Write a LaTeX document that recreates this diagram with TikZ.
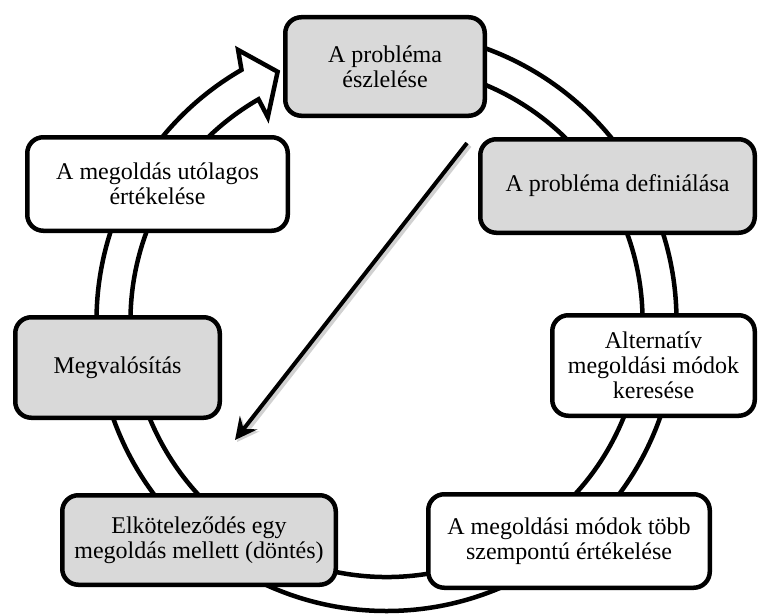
\documentclass[tikz,border=0pt]{standalone}
\usepackage{fontspec}
\setmainfont{Liberation Serif}
\usetikzlibrary{arrows.meta}
\definecolor{boxgray}{RGB}{217,217,217}
\begin{document}
\begin{tikzpicture}[x=1pt,y=1pt,
  stepbox/.style={draw=black, line width=4.5pt, rounded corners=16pt, align=center, inner sep=0pt, font=\fontsize{24}{25}\selectfont},
  graybox/.style={stepbox, fill=boxgray},
  whitebox/.style={stepbox, fill=white},
  ring/.style={draw=black, line width=4.5pt, fill=white},
  diag/.style={line width=4pt, -{Stealth[length=22pt,width=22pt,inset=8pt]}}]
\useasboundingbox (0,0) rectangle (759,-615);
% ring with arrow head
\begin{scope}[shift={(386.5,-321)}]
\path[ring] (90:290) arc[start angle=90,end angle=-240,radius=290]
  -- (118.7:309) -- (113.6:272) -- (120.2:236) -- (120:256)
  arc[start angle=120,end angle=450,radius=256] -- cycle;
\end{scope}
% boxes
\node[graybox, minimum width=199.5pt, minimum height=98.5pt] (n1) at (385,-66.5) {A probléma\\észlelése};
\node[graybox, minimum width=274.5pt, minimum height=93.5pt] (n2) at (617.5,-186) {A probléma definiálása};
\node[whitebox, minimum width=202.5pt, minimum height=100.5pt] (n3) at (653.5,-365.5) {Alternatív\\megoldási módok\\keresése};
\node[whitebox, minimum width=281.5pt, minimum height=93.5pt] (n4) at (569,-541) {A megoldási módok több\\szempontú értékelése};
\node[graybox, minimum width=273.5pt, minimum height=89.5pt] (n5) at (199,-540) {Elköteleződés egy\\megoldás mellett (döntés)};
\node[graybox, minimum width=204.5pt, minimum height=100.5pt] (n6) at (117.5,-367.5) {Megvalósítás};
\node[whitebox, minimum width=260.5pt, minimum height=93.5pt] (n7) at (157.5,-184) {A megoldás utólagos\\értékelése};
% diagonal arrow
\coordinate (as) at (467,-143);
\coordinate (ae) at (235,-440);
\coordinate (ss) at (469,-145);
\coordinate (se) at (237,-442);
\draw[diag, draw=black!18, fill=black!18, line width=6pt] (ss) -- (se);
\draw[diag] (as) -- (ae);
\end{tikzpicture}
\end{document}
